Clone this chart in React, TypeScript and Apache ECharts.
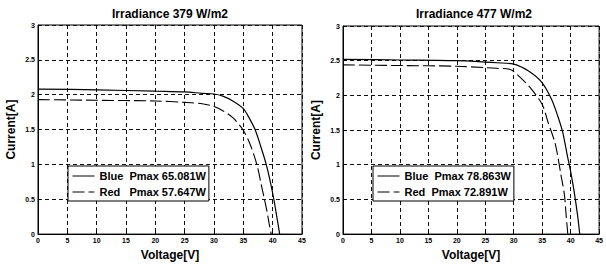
import React, { useEffect, useRef } from "react";
import * as echarts from "echarts";

// Irradiance 379 W/m2
const V_BLUE_379 = [0, 10, 20, 25, 28, 30, 31.5, 33.2, 35, 36.1, 37, 38, 38.9, 39.6, 40.2, 40.7, 41.2];
const I_BLUE_379 = [2.08, 2.07, 2.05, 2.04, 2.02, 2.01, 1.98, 1.91, 1.8, 1.65, 1.5, 1.25, 1.0, 0.75, 0.5, 0.25, 0];
const V_RED_379 = [0, 10, 20, 25, 28, 30, 31.5, 33.2, 34.9, 36.1, 37.3, 38.1, 38.6, 39.0, 39.4, 39.75];
const I_RED_379 = [1.93, 1.92, 1.91, 1.89, 1.87, 1.83, 1.77, 1.67, 1.5, 1.3, 1.0, 0.69, 0.5, 0.34, 0.15, 0];

// Irradiance 477 W/m2
const V_BLUE_477 = [0, 10, 20, 25, 27, 30, 32.6, 34.9, 36.6, 37.7, 38.6, 39.4, 40.0, 40.6, 41.2, 41.6];
const I_BLUE_477 = [2.52, 2.51, 2.5, 2.48, 2.47, 2.45, 2.35, 2.19, 1.95, 1.71, 1.47, 1.14, 0.9, 0.62, 0.28, 0];
const V_RED_477 = [0, 10, 20, 25, 27, 29.5, 31, 33, 35, 36, 37.2, 37.7, 38.3, 38.9, 39.2, 39.5];
const I_RED_477 = [2.44, 2.43, 2.42, 2.4, 2.39, 2.37, 2.27, 2.1, 1.87, 1.62, 1.33, 1.14, 0.85, 0.57, 0.28, 0];

const TITLES = ["Irradiance 379 W/m2", "Irradiance 477 W/m2"];
const LEGEND_379 = ["Blue  Pmax 65.081W", "Red   Pmax 57.647W"];
const LEGEND_477 = ["Blue  Pmax 78.863W", "Red  Pmax 72.891W"];
const X_NAME = "Voltage[V]";
const Y_NAME = "Current[A]";

const FONT = "'Liberation Sans', Arial, sans-serif";

const zip = (xs: number[], ys: number[]) => xs.map((x, i) => [x, ys[i]]);

export default function App() {
  const ref = useRef<HTMLDivElement>(null);

  useEffect(() => {
    if (!ref.current) return;
    const chart = echarts.init(ref.current, undefined, { renderer: "svg" });

    const grids = [
      { left: 38, top: 25, width: 264, height: 211 },
      { left: 343, top: 26, width: 262, height: 210 },
    ];

    const xAxis = grids.map((_, i) => ({
      gridIndex: i,
      type: "value",
      min: 0,
      max: 45,
      interval: 5,
      name: X_NAME,
      nameLocation: "middle",
      nameGap: 8,
      nameTextStyle: { fontSize: 12, fontWeight: "bold", color: "#000", fontFamily: FONT },
      axisLine: { show: true, onZero: false, lineStyle: { color: "#000", width: 1 } },
      axisTick: { show: true, inside: true, length: 3, lineStyle: { color: "#000" } },
      axisLabel: { fontSize: 7, fontWeight: "bold", color: "#000", margin: 3, fontFamily: FONT },
      splitLine: { show: true, lineStyle: { color: "#111", type: [4, 3], width: 1 } },
    }));

    const yAxis = grids.map((_, i) => ({
      gridIndex: i,
      type: "value",
      min: 0,
      max: 3,
      interval: 0.5,
      name: Y_NAME,
      nameLocation: "middle",
      nameGap: 21,
      nameTextStyle: { fontSize: 12, fontWeight: "bold", color: "#000", fontFamily: FONT },
      axisLine: { show: true, onZero: false, lineStyle: { color: "#000", width: 1 } },
      axisTick: { show: true, inside: true, length: 3, lineStyle: { color: "#000" } },
      axisLabel: { fontSize: 7, fontWeight: "bold", color: "#000", margin: 3, fontFamily: FONT },
      splitLine: { show: true, lineStyle: { color: "#111", type: [4, 3], width: 1 } },
    }));

    const solid = { color: "#000", width: 1.2, type: "solid" };
    const dashed = { color: "#000", width: 1.1, type: [12, 4] };

    const mk = (name: string, idx: number, data: number[][], ls: any) => ({
      type: "line",
      name,
      xAxisIndex: idx,
      yAxisIndex: idx,
      data,
      symbol: "none",
      smooth: 0.3,
      lineStyle: ls,
      itemStyle: { color: "#000" },
      z: 5,
    });

    const legendBase = {
      orient: "vertical",
      padding: [4, 3, 3, 4],
      itemGap: 4,
      itemWidth: 22,
      itemHeight: 12,
      backgroundColor: "#fff",
      borderColor: "#000",
      borderWidth: 1,
      borderRadius: 0,
      z: 10,
      lineStyle: { width: 1 },
      itemStyle: { color: "rgba(0,0,0,0)", borderColor: "rgba(0,0,0,0)", borderWidth: 0, opacity: 0 },
      textStyle: { fontSize: 11, fontWeight: "bold", color: "#000", fontFamily: FONT, lineHeight: 12 },
    };

    chart.setOption({
      animation: false,
      backgroundColor: "#fff",
      title: [
        {
          text: TITLES[0],
          left: 170,
          top: 8,
          textAlign: "center",
          padding: 0,
          textStyle: { fontSize: 12, fontWeight: "bold", color: "#000", fontFamily: FONT },
        },
        {
          text: TITLES[1],
          left: 474,
          top: 8,
          textAlign: "center",
          padding: 0,
          textStyle: { fontSize: 12, fontWeight: "bold", color: "#000", fontFamily: FONT },
        },
      ],
      grid: grids.map((g) => ({ ...g, show: true, borderColor: "#000", borderWidth: 1, backgroundColor: "#fff" })),
      xAxis,
      yAxis,
      legend: [
        { ...legendBase, left: 68, top: 166, data: LEGEND_379 },
        { ...legendBase, left: 373, top: 166, data: LEGEND_477 },
      ],
      series: [
        mk(LEGEND_379[0], 0, zip(V_BLUE_379, I_BLUE_379), solid),
        mk(LEGEND_379[1], 0, zip(V_RED_379, I_RED_379), dashed),
        mk(LEGEND_477[0], 1, zip(V_BLUE_477, I_BLUE_477), solid),
        mk(LEGEND_477[1], 1, zip(V_RED_477, I_RED_477), dashed),
      ],
    });

    return () => chart.dispose();
  }, []);

  return (
    <div
      ref={ref}
      style={{ position: "fixed", left: 0, top: 0, width: 606, height: 266, background: "#fff" }}
    />
  );
}
